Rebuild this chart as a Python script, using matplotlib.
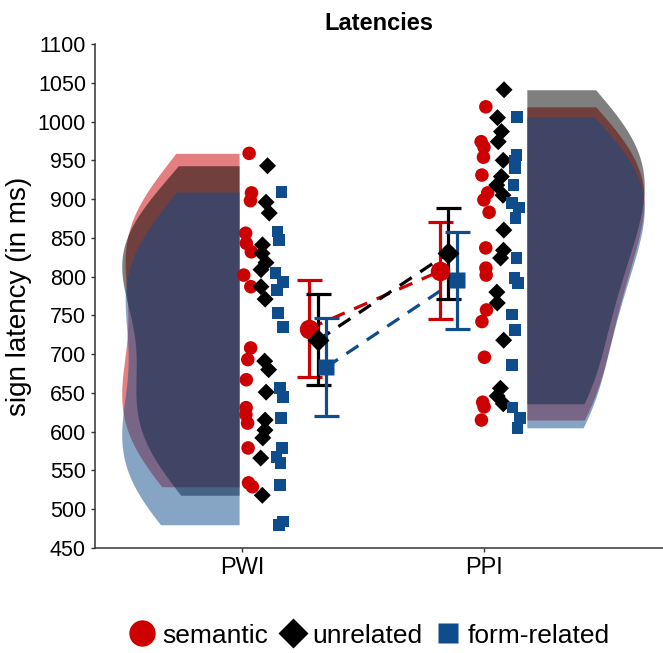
import numpy as np
import matplotlib
matplotlib.use("Agg")
import matplotlib.pyplot as plt
from matplotlib.lines import Line2D

plt.rcParams['font.family'] = ['Liberation Sans', 'DejaVu Sans']

tasks = ["PWI", "PPI"]
conditions = ["semantic", "unrelated", "form-related"]
colors = ["#CC0000", "#000000", "#0F4C8C"]
markers = ["o", "D", "s"]

# participant latencies (ms)
pwi_semantic = [959, 908, 898, 856, 843, 832, 802, 787, 708, 693, 667, 631, 622, 611, 579, 534, 529]
pwi_unrelated = [943, 896, 882, 841, 830, 818, 809, 787, 771, 691, 680, 651, 615, 602, 592, 566, 518]
pwi_form = [909, 858, 847, 805, 793, 783, 753, 735, 656, 645, 618, 579, 567, 560, 531, 484, 480]
ppi_semantic = [1019, 974, 967, 954, 931, 908, 899, 883, 837, 811, 802, 757, 742, 696, 638, 632, 615]
ppi_unrelated = [1041, 1005, 987, 974, 950, 929, 918, 905, 860, 834, 824, 780, 766, 718, 656, 646, 636]
ppi_form = [1006, 957, 950, 940, 918, 895, 889, 876, 824, 798, 792, 751, 731, 686, 631, 618, 605]

# condition means with error bars (ms)
pwi_mean = [733, 718, 683]
pwi_low = [671, 660, 620]
pwi_high = [795, 778, 747]
ppi_mean = [807, 830, 796]
ppi_low = [745, 771, 732]
ppi_high = [870, 889, 857]

data = {"PWI": [pwi_semantic, pwi_unrelated, pwi_form],
        "PPI": [ppi_semantic, ppi_unrelated, ppi_form]}
summ = {"PWI": (pwi_mean, pwi_low, pwi_high),
        "PPI": (ppi_mean, ppi_low, ppi_high)}

# layout offsets per task
violin_base = {"PWI": -0.012, "PPI": 0.177}
violin_dir = {"PWI": -1, "PPI": 1}
point_off = {"PWI": [0.025, 0.095, 0.157], "PPI": [0.004, 0.066, 0.132]}
mean_off = {"PWI": [0.277, 0.314, 0.347], "PPI": [-0.182, -0.149, -0.112]}
pt_size = [95, 75, 70]
mean_size = [14, 11, 11]


def kde(vals, grid, adjust=1.2):
    vals = np.asarray(vals, dtype=float)
    n = len(vals)
    sd = vals.std(ddof=1)
    q75, q25 = np.percentile(vals, [75, 25])
    bw = adjust * 0.9 * min(sd, (q75 - q25) / 1.34) * n ** -0.2
    z = (grid[:, None] - vals[None, :]) / bw
    return np.exp(-0.5 * z ** 2).sum(1) / (n * bw * np.sqrt(2 * np.pi))


fig = plt.figure(figsize=(6.63, 6.53), dpi=100)
ax = fig.add_axes([0.1433, 0.1608, 0.8567, 0.7718])

rng = np.random.default_rng(7)

for ti, task in enumerate(tasks):
    xpos = ti + 1
    # half violins
    for ci in range(3):
        vals = data[task][ci]
        grid = np.linspace(min(vals), max(vals), 300)
        d = kde(vals, grid)
        w = d / d.max() * 0.485
        base = xpos + violin_base[task]
        ax.fill_betweenx(grid, base, base + violin_dir[task] * w,
                         color=colors[ci], alpha=0.5, lw=0, zorder=1)
    # jittered points
    for ci in range(3):
        vals = data[task][ci]
        jit = rng.uniform(-0.018, 0.018, len(vals))
        ax.scatter(xpos + point_off[task][ci] + jit, vals, s=pt_size[ci],
                   marker=markers[ci], color=colors[ci], edgecolors='none', zorder=3)

# dashed lines between means
for ci in range(3):
    xs = [1 + mean_off["PWI"][ci], 2 + mean_off["PPI"][ci]]
    ys = [pwi_mean[ci], ppi_mean[ci]]
    ax.plot(xs, ys, color=colors[ci], lw=2.3, ls=(0, (4.5, 3.2)), zorder=4)

# means with error bars
for ti, task in enumerate(tasks):
    m, lo, hi = summ[task]
    for ci in range(3):
        x = ti + 1 + mean_off[task][ci]
        ax.errorbar(x, m[ci], yerr=[[m[ci] - lo[ci]], [hi[ci] - m[ci]]],
                    fmt=markers[ci], color=colors[ci], ms=mean_size[ci], mec='none',
                    elinewidth=2.3, capsize=9, capthick=2.3, zorder=5)

ax.set_xlim(0.3926, 2.7397)
ax.set_ylim(450, 1100)
ax.set_yticks(np.arange(450, 1101, 50))
ax.set_xticks([1, 2])
ax.set_xticklabels(tasks)
ax.tick_params(axis='y', labelsize=15.5, length=3, color='#333333', width=1)
ax.tick_params(axis='x', labelsize=17, length=3, color='#333333', width=1)
for s in ['top', 'right']:
    ax.spines[s].set_visible(False)
for s in ['left', 'bottom']:
    ax.spines[s].set_color('#333333')
    ax.spines[s].set_linewidth(1.1)

ax.set_ylabel("sign latency (in ms)", fontsize=20)
ax.set_title("Latencies", fontsize=17, fontweight='bold', pad=10)

handles = [Line2D([], [], marker=markers[i], color=colors[i], ls='None',
                  ms=[19, 15, 15][i], mec='none') for i in range(3)]
fig.legend(handles, conditions, loc='lower center', bbox_to_anchor=(0.555, -0.028),
           ncol=3, frameon=False, fontsize=19, handletextpad=0.15,
           columnspacing=0.35, handlelength=1.2)

fig.savefig("out.png", dpi=100)
